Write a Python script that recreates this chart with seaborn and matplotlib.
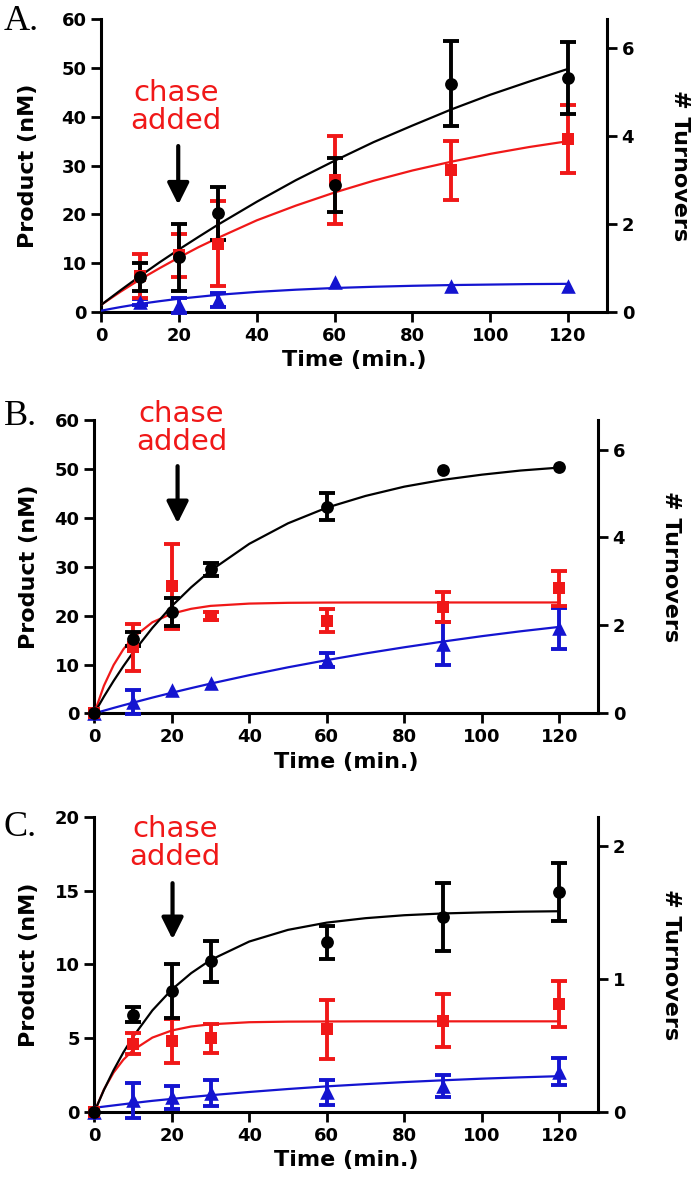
import numpy as np
import pandas as pd
import matplotlib
matplotlib.use("Agg")
import matplotlib.pyplot as plt
import seaborn as sns

sns.set_style("ticks", {"axes.edgecolor": "black", "text.color": "black", "axes.labelcolor": "black",
                        "xtick.color": "black", "ytick.color": "black"})
plt.rcParams['font.family'] = ['DejaVu Sans']

# %%
# measured points (mean and error) per panel, time in min
t_a = [10, 20, 30, 60, 90, 120]
t_bc = [0, 10, 20, 30, 60, 90, 120]

a_black = [7.2, 11.2, 20.2, 26.0, 46.7, 47.9]
a_black_err = [2.8, 6.8, 5.5, 5.5, 8.7, 7.3]
a_red = [7.5, 11.6, 14.0, 27.0, 29.0, 35.5]
a_red_err = [4.5, 4.5, 8.7, 9.0, 6.0, 7.0]
a_blue = [2.0, 1.4, 2.5, 6.1, 5.3, 5.3]
a_blue_err = [0.6, 1.5, 1.5, 0.0, 0.0, 0.0]

b_black = [0, 15.2, 20.8, 29.5, 42.3, 49.8, 50.4]
b_black_err = [0, 1.5, 2.9, 1.3, 2.8, 0, 0]
b_red = [0, 13.5, 26.0, 20.0, 19.0, 21.8, 25.6]
b_red_err = [0, 4.8, 8.7, 0.8, 2.3, 3.1, 3.6]
b_blue = [0, 2.3, 4.8, 6.3, 10.9, 14.3, 17.4]
b_blue_err = [0, 2.4, 0, 0, 1.4, 4.3, 4.2]

c_black = [0, 6.6, 8.2, 10.2, 11.5, 13.2, 14.9]
c_black_err = [0, 0.5, 1.8, 1.4, 1.1, 2.3, 1.95]
c_red = [0, 4.65, 4.8, 5.0, 5.6, 6.2, 7.35]
c_red_err = [0, 0.7, 1.5, 1.0, 2.0, 1.8, 1.55]
c_blue = [0, 0.8, 1.0, 1.3, 1.35, 1.8, 2.75]
c_blue_err = [0, 1.2, 0.8, 0.9, 0.85, 0.75, 0.9]

# fitted curves
t_fit = [0, 2.5, 5, 7.5, 10, 15, 20, 25, 30, 40, 50, 60, 70, 80, 90, 100, 110, 120]
a_black_fit = [1.5, 3.0, 4.5, 5.95, 7.4, 10.2, 12.85, 15.4, 17.9, 22.6, 27.0, 31.0, 34.8, 38.2, 41.5, 44.5, 47.2, 49.8]
a_red_fit = [1.5, 2.86, 4.2, 5.46, 6.7, 9.0, 11.2, 13.3, 15.2, 18.8, 21.8, 24.5, 26.9, 29.0, 30.8, 32.4, 33.8, 35.0]
a_blue_fit = [0.3, 0.69, 1.05, 1.38, 1.7, 2.25, 2.75, 3.15, 3.55, 4.15, 4.6, 4.95, 5.2, 5.4, 5.55, 5.65, 5.75, 5.8]
b_black_fit = [0, 3.44, 6.65, 9.65, 12.45, 17.5, 21.95, 25.8, 29.2, 34.7, 38.9, 42.1, 44.5, 46.4, 47.8, 48.85, 49.7, 50.3]
b_red_fit = [0, 5.67, 9.9, 13.1, 15.5, 18.65, 20.4, 21.4, 22.0, 22.47, 22.63, 22.68, 22.7, 22.7, 22.7, 22.7, 22.7, 22.7]
b_blue_fit = [0, 0.56, 1.12, 1.66, 2.19, 3.23, 4.22, 5.17, 6.09, 7.82, 9.43, 10.9, 12.27, 13.53, 14.7, 15.8, 16.8, 17.7]
c_black_fit = [0, 1.51, 2.85, 4.04, 5.1, 6.89, 8.3, 9.41, 10.3, 11.55, 12.34, 12.83, 13.13, 13.33, 13.45, 13.52, 13.57, 13.6]
c_red_fit = [0, 1.54, 2.69, 3.55, 4.2, 5.05, 5.53, 5.8, 5.95, 6.09, 6.13, 6.14, 6.15, 6.15, 6.15, 6.15, 6.15, 6.15]
c_blue_fit = [0.3, 0.38, 0.46, 0.54, 0.62, 0.77, 0.9, 1.03, 1.15, 1.37, 1.57, 1.75, 1.9, 2.04, 2.16, 2.27, 2.36, 2.44]

enzyme_nM = 9.0  # turnovers = product / enzyme

BLACK = "black"
RED = "#f01818"
BLUE = "#1414d0"

# %%
fig = plt.figure(figsize=(6.93, 11.87), dpi=100)

panels = [
    dict(letter="A.", rect=[0.146, 0.737, 0.730, 0.247], t=t_a, ymax=60, yticks=[0, 10, 20, 30, 40, 50, 60],
         rticks=[0, 2, 4, 6], letter_y=0.996, ylpad=17,
         series=[(a_blue, a_blue_err, a_blue_fit, BLUE, "^"),
                 (a_red, a_red_err, a_red_fit, RED, "s"),
                 (a_black, a_black_err, a_black_fit, BLACK, "o")],
         text_xy=(19.3, 42), arrow=(19.8, 34, 22)),
    dict(letter="B.", rect=[0.136, 0.399, 0.727, 0.247], t=t_bc, ymax=60, yticks=[0, 10, 20, 30, 40, 50, 60],
         rticks=[0, 2, 4, 6], letter_y=0.663, ylpad=11,
         series=[(b_blue, b_blue_err, b_blue_fit, BLUE, "^"),
                 (b_red, b_red_err, b_red_fit, RED, "s"),
                 (b_black, b_black_err, b_black_fit, BLACK, "o")],
         text_xy=(22.5, 58.5), arrow=(21.5, 50.6, 38.9)),
    dict(letter="C.", rect=[0.136, 0.063, 0.727, 0.249], t=t_bc, ymax=20, yticks=[0, 5, 10, 15, 20],
         rticks=[0, 1, 2], letter_y=0.317, ylpad=11,
         series=[(c_blue, c_blue_err, c_blue_fit, BLUE, "^"),
                 (c_red, c_red_err, c_red_fit, RED, "s"),
                 (c_black, c_black_err, c_black_fit, BLACK, "o")],
         text_xy=(20.8, 18.2), arrow=(20.2, 15.5, 11.7)),
]

msize = {"o": 85, "s": 75, "^": 110}

for p in panels:
    ax = fig.add_axes(p["rect"])
    for vals, errs, fit, col, mk in p["series"]:
        sns.lineplot(x=t_fit, y=fit, ax=ax, color=col, lw=1.6, zorder=3)
        # only points that have a visible spread get a bar
        keep = [i for i, e in enumerate(errs) if e > 0]
        ax.errorbar([p["t"][i] for i in keep], [vals[i] for i in keep], yerr=[errs[i] for i in keep],
                    fmt="none", ecolor=col, elinewidth=2.8, capsize=6, capthick=2.8, zorder=4, clip_on=False)
        sns.scatterplot(x=p["t"], y=vals, ax=ax, color=col, marker=mk, s=msize[mk],
                        edgecolor=col, linewidth=0, zorder=5, clip_on=False)

    ax.set_xlim(0, 130)
    ax.set_ylim(0, p["ymax"])
    ax.set_xticks([0, 20, 40, 60, 80, 100, 120])
    ax.set_yticks(p["yticks"])
    ax.set_xlabel("Time (min.)", fontsize=16, fontweight="bold", labelpad=4)
    ax.set_ylabel("Product (nM)", fontsize=16, fontweight="bold", labelpad=p["ylpad"])
    ax.tick_params(width=2, length=7, labelsize=13, direction="out", colors="black")
    for lab in ax.get_xticklabels() + ax.get_yticklabels():
        lab.set_fontweight("bold")
    ax.spines["top"].set_visible(False)
    ax.spines["right"].set_visible(False)
    ax.spines["left"].set_linewidth(2.2)
    ax.spines["bottom"].set_linewidth(2.2)

    # turnover axis on the right
    ax2 = ax.twinx()
    ax2.set_ylim(0, p["ymax"] / enzyme_nM)
    ax2.set_yticks(p["rticks"])
    ax2.set_ylabel("# Turnovers", fontsize=16, fontweight="bold", rotation=270, labelpad=40)
    ax2.tick_params(width=2, length=7, labelsize=13, direction="out", colors="black")
    for lab in ax2.get_yticklabels():
        lab.set_fontweight("bold")
    ax2.spines["top"].set_visible(False)
    ax2.spines["left"].set_visible(False)
    ax2.spines["bottom"].set_visible(False)
    ax2.spines["right"].set_linewidth(2.2)

    # chase annotation
    tx, ty = p["text_xy"]
    ax.text(tx, ty, "chase\nadded", color=RED, fontsize=21, ha="center", va="center",
            linespacing=1.0, zorder=6, clip_on=False)
    axx, y0, y1 = p["arrow"]
    ax.annotate("", xy=(axx, y1), xytext=(axx, y0),
                arrowprops=dict(arrowstyle="-|>,head_length=1.3,head_width=0.65", color="black", lw=3,
                                shrinkA=0, shrinkB=0), zorder=6)

    fig.text(0.005, p["letter_y"], p["letter"], fontsize=26, family="Liberation Serif", va="top", ha="left")

fig.savefig("out.png", dpi=100)
